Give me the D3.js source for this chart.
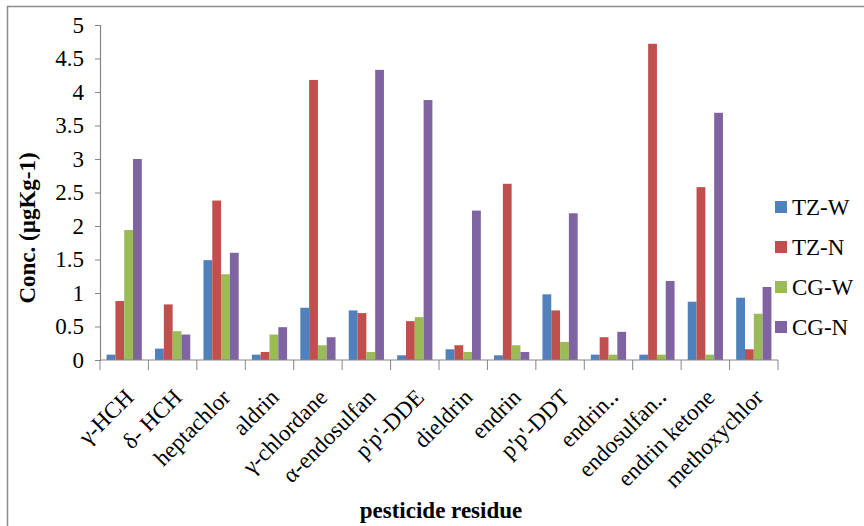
<!DOCTYPE html>
<html>
<head>
<meta charset="utf-8">
<script src="https://cdn.jsdelivr.net/npm/d3@7"></script>
<style>
  html, body { margin: 0; padding: 0; background: #fff; }
  svg { display: block; }
  text { font-family: "Liberation Serif", "Times New Roman", serif; fill: #000; }
</style>
</head>
<body>
<svg id="chart" width="864" height="526"></svg>
<script>
// Pesticide residues (µg/kg) by site
const categories = ["γ-HCH", "δ- HCH", "heptachlor", "aldrin", "γ-chlordane", "α-endosulfan",
    "p'p'-DDE", "dieldrin", "endrin", "p'p'-DDT", "endrin‥", "endosulfan‥", "endrin ketone", "methoxychlor"];
const seriesNames = ["TZ-W", "TZ-N", "CG-W", "CG-N"];
const tzW = [0.08, 0.17, 1.49, 0.08, 0.78, 0.74, 0.07, 0.16, 0.07, 0.98, 0.08, 0.08, 0.87, 0.93];
const tzN = [0.88, 0.83, 2.38, 0.12, 4.18, 0.70, 0.58, 0.22, 2.63, 0.74, 0.34, 4.72, 2.58, 0.16];
const cgW = [1.94, 0.43, 1.28, 0.38, 0.22, 0.12, 0.64, 0.12, 0.22, 0.27, 0.08, 0.08, 0.08, 0.69];
const cgN = [3.00, 0.38, 1.60, 0.49, 0.34, 4.33, 3.88, 2.23, 0.12, 2.19, 0.42, 1.18, 3.69, 1.09];
const yTicks = [0, 0.5, 1, 1.5, 2, 2.5, 3, 3.5, 4, 4.5, 5];

const COLORS = ["#4F81BD", "#C0504D", "#9BBB59", "#8064A2"];
const values = [tzW, tzN, cgW, cgN];

const svg = d3.select("#chart");

// outer chart border (only left and top visible inside the crop)
svg.append("rect")
    .attr("x", 7.5).attr("y", 6.5)
    .attr("width", 900).attr("height", 600)
    .attr("fill", "none")
    .attr("stroke", "#8c8c8c")
    .attr("stroke-width", 1.5);

const plot = { left: 100, right: 778, top: 25, bottom: 360 };

const x = d3.scaleBand()
    .domain(categories)
    .range([plot.left, plot.right]);

// Excel-like gap width 150% -> 0.75 bar width on each side
const x1 = d3.scaleBand()
    .domain(seriesNames)
    .range([0, x.bandwidth()])
    .paddingOuter(0.75);

const y = d3.scaleLinear()
    .domain([0, 5])
    .range([plot.bottom, plot.top]);

// bars
const rows = categories.map((c, i) => ({ cat: c, vals: values.map(v => v[i]) }));

const groups = svg.append("g")
    .selectAll("g")
    .data(rows)
    .enter()
    .append("g")
    .attr("transform", d => `translate(${x(d.cat)},0)`);

groups.selectAll("rect")
    .data(d => d.vals.map((v, k) => ({ name: seriesNames[k], v, k })))
    .enter()
    .append("rect")
    .attr("x", d => x1(d.name))
    .attr("width", x1.bandwidth())
    .attr("y", d => y(d.v))
    .attr("height", d => y(0) - y(d.v))
    .attr("fill", d => COLORS[d.k]);

// y axis
const yAxis = svg.append("g")
    .attr("transform", `translate(${plot.left},0)`)
    .call(d3.axisLeft(y).tickValues(yTicks).tickSize(5).tickPadding(11).tickFormat(d => String(d)));
yAxis.select(".domain").attr("stroke", "#868686").attr("stroke-width", 1.2);
yAxis.selectAll(".tick line").attr("stroke", "#868686");
yAxis.selectAll(".tick text")
    .attr("font-size", 23)
    .attr("fill", "#000");

// x axis line + category boundary ticks
const xAxisG = svg.append("g");
xAxisG.append("line")
    .attr("x1", plot.left).attr("x2", plot.right)
    .attr("y1", plot.bottom).attr("y2", plot.bottom)
    .attr("stroke", "#868686").attr("stroke-width", 1.2);
const bounds = categories.map(c => x(c)).concat([plot.right]);
xAxisG.selectAll("line.tk")
    .data(bounds)
    .enter()
    .append("line")
    .attr("class", "tk")
    .attr("x1", d => d).attr("x2", d => d)
    .attr("y1", plot.bottom).attr("y2", plot.bottom + 10)
    .attr("stroke", "#868686");

// rotated category labels
xAxisG.selectAll("text.cat")
    .data(categories)
    .enter()
    .append("text")
    .attr("class", "cat")
    .attr("transform", d => `translate(${x(d) + x.bandwidth() / 2 + 5},${plot.bottom + 33}) rotate(-45)`)
    .attr("text-anchor", "end")
    .attr("dy", "0.35em")
    .attr("font-size", 23)
    .text(d => d);

// axis titles
svg.append("text")
    .attr("x", 441).attr("y", 518)
    .attr("text-anchor", "middle")
    .attr("font-size", 23)
    .attr("font-weight", "bold")
    .text("pesticide residue");

svg.append("text")
    .attr("transform", "translate(35,228) rotate(-90)")
    .attr("text-anchor", "middle")
    .attr("font-size", 23)
    .attr("font-weight", "bold")
    .text("Conc. (µgKg-1)");

// legend
const legend = svg.append("g")
    .selectAll("g")
    .data(seriesNames)
    .enter()
    .append("g")
    .attr("transform", (d, i) => `translate(775,${207 + i * 40})`);

legend.append("rect")
    .attr("x", 0).attr("y", -6)
    .attr("width", 12).attr("height", 12)
    .attr("fill", (d, i) => COLORS[i]);

legend.append("text")
    .attr("x", 17)
    .attr("dy", "0.35em")
    .attr("font-size", 23)
    .text(d => d);
</script>
</body>
</html>
